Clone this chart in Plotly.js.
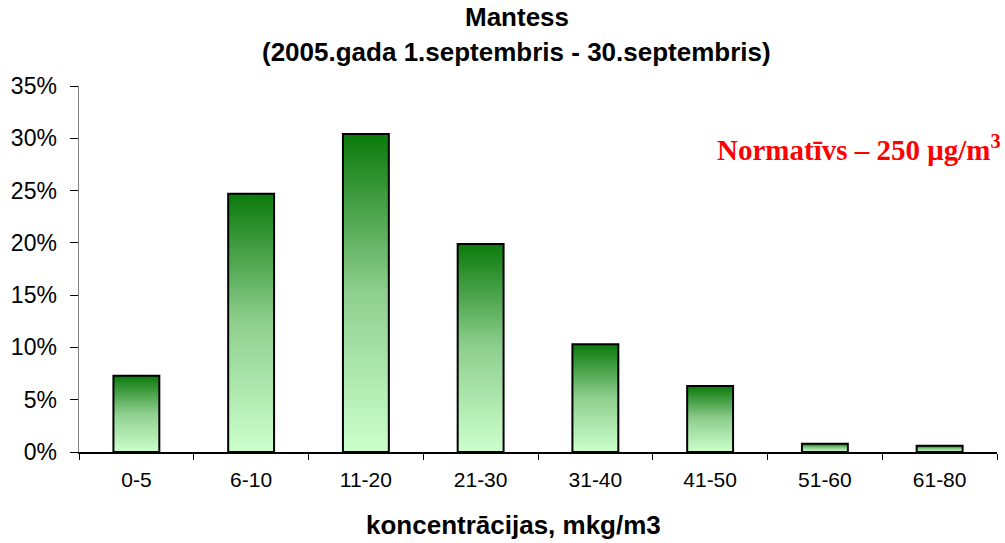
<!DOCTYPE html>
<html>
<head>
<meta charset="utf-8">
<script src="https://cdn.plot.ly/plotly-3.0.1.min.js"></script>
<style>html,body{margin:0;padding:0;background:#fff;}#chart{width:1005px;height:543px;}</style>
</head>
<body>
<div id="chart"></div>
<script>
const categories = ['0-5','6-10','11-20','21-30','31-40','41-50','51-60','61-80'];
const shares = [0.073, 0.247, 0.304, 0.199, 0.103, 0.063, 0.008, 0.006];
const yTickVals = [0,0.05,0.10,0.15,0.20,0.25,0.30,0.35];
const yTickText = ['0%','5%','10%','15%','20%','25%','30%','35%'];
const titleLine1 = 'Mantess';
const titleLine2 = '(2005.gada 1.septembris - 30.septembris)';
const xTitle = 'koncentrācijas, mkg/m3';
const normText = 'Normatīvs – 250 μg/m<sup>3</sup>';

const trace = {
  type: 'bar', x: categories, y: shares, width: 0.4,
  marker: {color: '#7fbf7f', line: {color: '#000', width: 2}},
  hoverinfo: 'none'
};
const layout = {
  width: 1005, height: 543,
  margin: {l: 79, r: 8, t: 86, b: 91},
  paper_bgcolor: '#fff', plot_bgcolor: '#fff',
  font: {family: 'Liberation Sans, Arial, sans-serif', color: '#000'},
  showlegend: false,
  xaxis: {
    type: 'category', tickson: 'boundaries', ticks: 'outside', ticklen: 6, tickcolor: '#000',
    showline: true, linecolor: '#000', linewidth: 1.5, showgrid: false, zeroline: false,
    tickfont: {size: 21}, ticklabelstandoff: 8, range: [-0.5, 7.5], fixedrange: true
  },
  yaxis: {
    range: [0, 0.35], tickvals: yTickVals, ticktext: yTickText, ticks: 'outside', ticklen: 8,
    tickcolor: '#000', showline: true, linecolor: '#808080', linewidth: 1.5, showgrid: false,
    zeroline: false, tickfont: {size: 23}, ticklabelstandoff: 8, fixedrange: true
  },
  annotations: [
    {text: '<b>' + titleLine1 + '</b>', xref: 'paper', yref: 'paper', x: 0.4771, y: 1.1885, showarrow: false, xanchor: 'center', yanchor: 'middle', font: {size: 26}},
    {text: '<b>' + titleLine2 + '</b>', xref: 'paper', yref: 'paper', x: 0.4771, y: 1.0929, showarrow: false, xanchor: 'center', yanchor: 'middle', font: {size: 26}},
    {text: '<b>' + xTitle + '</b>', xref: 'paper', yref: 'paper', x: 0.4728, y: -0.2, showarrow: false, xanchor: 'center', yanchor: 'middle', font: {size: 26}},
    {text: '<b>' + normText + '</b>', xref: 'paper', yref: 'paper', x: 0.8497, y: 0.8306, showarrow: false, xanchor: 'center', yanchor: 'middle', font: {size: 29, color: '#ff0000', family: 'Liberation Serif, Times New Roman, serif'}}
  ]
};
Plotly.newPlot('chart', [trace], layout, {staticPlot: true, displayModeBar: false}).then(function(gd){
  const svg = gd.querySelector('svg.main-svg');
  let defs = svg.querySelector('defs');
  const ns = 'http://www.w3.org/2000/svg';
  const grad = document.createElementNS(ns, 'linearGradient');
  grad.setAttribute('id', 'barGrad');
  grad.setAttribute('x1', '0'); grad.setAttribute('y1', '0');
  grad.setAttribute('x2', '0'); grad.setAttribute('y2', '1');
  [['0%','#0b7a0b'],['50%','#8fcf8f'],['100%','#ccffcc']].forEach(function(s){
    const st = document.createElementNS(ns, 'stop');
    st.setAttribute('offset', s[0]); st.setAttribute('stop-color', s[1]);
    grad.appendChild(st);
  });
  defs.appendChild(grad);
  gd.querySelectorAll('.bars .point path').forEach(function(p){ p.style.fill = 'url(#barGrad)'; });
});
</script>
</body>
</html>
